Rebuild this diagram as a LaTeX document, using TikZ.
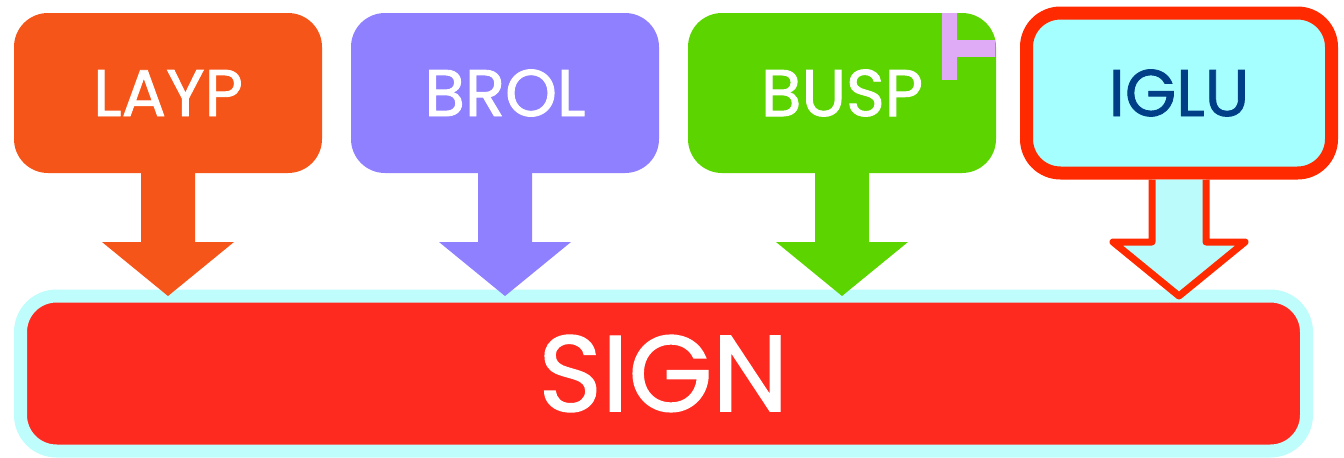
\documentclass[tikz,border=0pt]{standalone}
\usepackage{fontspec}
\setmainfont{Poppins}
\newfontfamily\signfont{Poppins}[FakeBold=1.3]
\usepackage{xcolor}
\definecolor{laypc}{RGB}{245,85,25}
\definecolor{brolc}{RGB}{143,128,255}
\definecolor{buspc}{RGB}{92,212,0}
\definecolor{iglufill}{RGB}{166,255,255}
\definecolor{iglutext}{RGB}{0,63,135}
\definecolor{hotred}{RGB}{255,42,0}
\definecolor{signred}{RGB}{255,42,31}
\definecolor{signrim}{RGB}{191,253,253}
\definecolor{arrcyan}{RGB}{187,251,251}
\definecolor{markpink}{RGB}{223,170,246}
\usetikzlibrary{positioning,calc}

\begin{document}
\begin{tikzpicture}[
  node distance=14.5pt,
  box/.style={rounded corners=17pt,minimum width=154pt,minimum height=80pt,
    inner sep=0pt,outer sep=0pt,text=white,font=\signfont\fontsize{33}{33}\selectfont},
  signbox/.style={fill=signred,draw=signrim,line width=6.5pt,rounded corners=18pt,
    minimum width=643pt,minimum height=77.5pt,inner sep=0pt,outer sep=0pt,
    text=white,font=\signfont\fontsize{54}{54}\selectfont}]
  \useasboundingbox (0,0) rectangle (672pt,228.5pt);
  \node[box,fill=laypc](layp) at (84pt,182pt){LAYP};
  \node[box,fill=brolc,right=of layp](brol){BROL};
  \node[box,fill=buspc,right=of brol](busp){BUSP};
  \node[box,fill=iglufill,draw=hotred,line width=6.5pt,minimum width=152.5pt,
    text=iglutext,right=15.25pt of busp](iglu){IGLU};
  \node[signbox](sign) at (331.75pt,41.75pt){SIGN};
  % corner mark
  \fill[markpink] ($(busp.north east)+(-27pt,0)$) rectangle ++(7.5pt,-33.5pt);
  \fill[markpink] ($(busp.north east)+(-19.5pt,-13.5pt)$) rectangle ++(19pt,-8.5pt);
  % arrows down to SIGN
  \foreach \n/\c in {layp/laypc,brol/brolc,busp/buspc}
    \fill[\c] ($(\n.south)+(-13.5pt,0)$) -- ++(0,-34.5pt) -- ++(-19.5pt,0)
      -- (\n.south |- sign.north) -- ++(33pt,27pt) -- ++(-19.5pt,0)
      -- ($(\n.south)+(13.5pt,0)$) -- cycle;
  \filldraw[fill=arrcyan,draw=hotred,line width=3.5pt,line join=round]
    ($(iglu.south)+(-13.5pt,-3.25pt)$) -- ++(0,-31.25pt) -- ++(-19.5pt,0)
    -- (iglu.south |- sign.north) -- ++(33pt,27pt) -- ++(-19.5pt,0)
    -- ($(iglu.south)+(13.5pt,-3.25pt)$);
\end{tikzpicture}
\end{document}
